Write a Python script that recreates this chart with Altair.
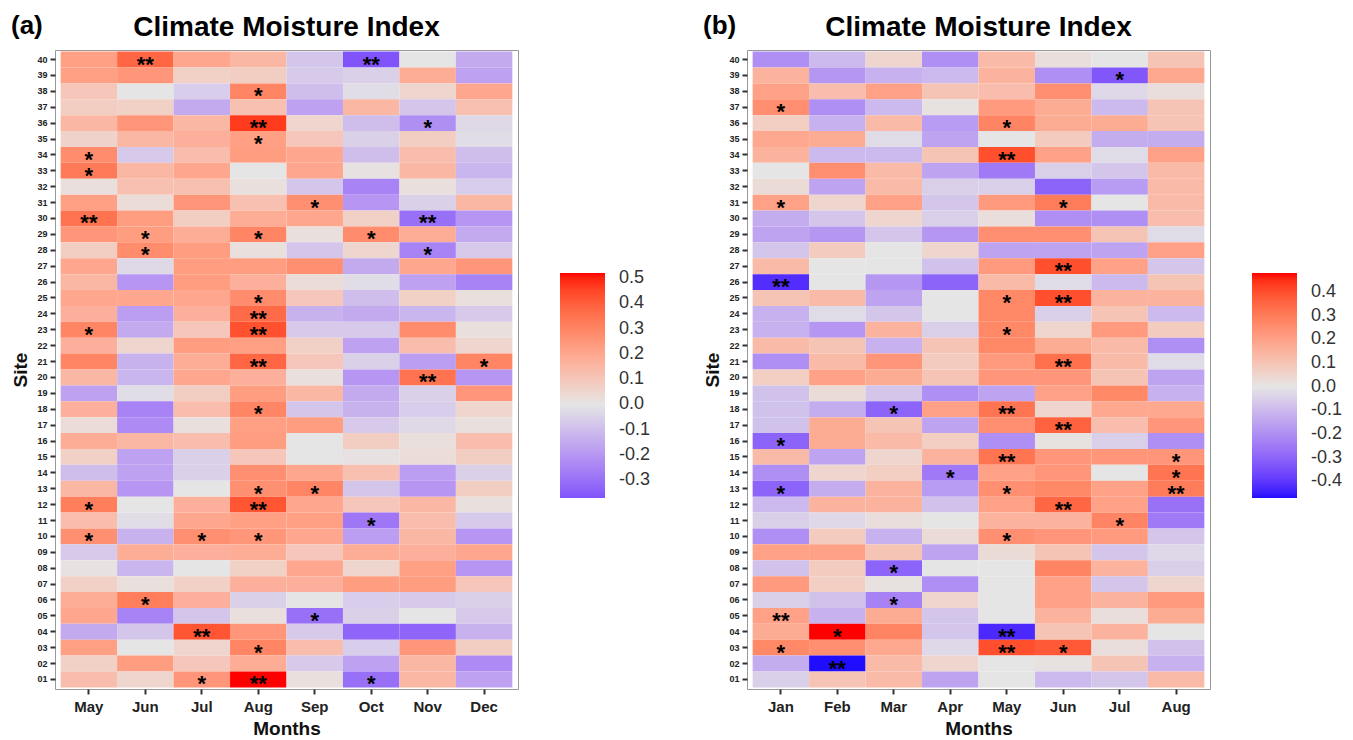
import altair as alt
import pandas as pd

FONT = "Liberation Sans"

# sites listed top -> bottom (40 ... 01)
sites = [f"{i:02d}" for i in range(40, 0, -1)]
months_a = ["May", "Jun", "Jul", "Aug", "Sep", "Oct", "Nov", "Dec"]
months_b = ["Jan", "Feb", "Mar", "Apr", "May", "Jun", "Jul", "Aug"]

# ---------------- panel (a): values per month, sites 40 -> 01 ----------------
a_may = [0.22, 0.22, 0.10, 0.08, 0.15, 0.06, 0.28, 0.33, 0.02, 0.22, 0.35, 0.25, 0.08, 0.20, 0.15, 0.20, 0.17, 0.30, 0.17, 0.30,
         0.15, -0.17, 0.17, 0.03, 0.18, 0.07, -0.10, 0.15, 0.32, 0.13, 0.27, -0.07, 0.01, 0.07, 0.18, 0.20, -0.15, 0.22, 0.07, 0.13]
a_jun = [0.38, 0.25, 0.00, 0.07, 0.25, 0.15, -0.07, 0.15, 0.12, 0.03, 0.23, 0.23, 0.28, -0.03, -0.20, 0.20, -0.18, -0.15, 0.05, -0.13,
         -0.12, -0.02, -0.25, -0.23, 0.15, -0.17, -0.17, -0.20, 0.00, -0.02, -0.13, 0.18, -0.12, 0.02, 0.32, -0.25, -0.08, 0.00, 0.23, 0.05]
a_jul = [0.20, 0.07, -0.06, -0.15, 0.15, 0.17, 0.13, 0.20, 0.12, 0.25, 0.08, 0.18, 0.23, 0.23, 0.23, 0.20, 0.17, 0.10, 0.23, 0.18,
         0.20, 0.08, 0.13, 0.02, 0.13, -0.05, -0.05, 0.00, 0.17, 0.20, 0.27, 0.17, 0.00, 0.07, 0.17, -0.08, 0.42, 0.05, 0.10, 0.25]
a_aug = [0.15, 0.08, 0.30, 0.12, 0.47, 0.22, 0.23, 0.00, 0.02, 0.12, 0.18, 0.30, 0.02, 0.23, 0.17, 0.28, 0.37, 0.43, 0.22, 0.38,
         0.17, 0.23, 0.30, 0.22, 0.23, 0.10, 0.27, 0.27, 0.42, 0.22, 0.25, 0.18, 0.07, 0.17, -0.05, 0.02, 0.25, 0.30, 0.18, 0.52]
a_sep = [-0.08, -0.07, -0.10, -0.17, 0.05, 0.10, 0.20, 0.20, -0.08, 0.27, 0.20, 0.02, -0.08, 0.27, 0.03, 0.10, -0.13, -0.07, 0.07, 0.10,
         0.02, 0.15, -0.08, 0.23, 0.00, 0.00, 0.20, 0.30, 0.20, 0.22, 0.20, 0.10, 0.20, 0.17, 0.00, -0.30, -0.07, 0.13, -0.07, 0.02]
a_oct = [-0.37, -0.05, -0.02, 0.15, -0.10, -0.05, -0.10, 0.01, -0.25, -0.20, 0.07, 0.28, 0.05, -0.15, -0.02, -0.10, -0.15, -0.07, -0.17, -0.05,
         -0.20, -0.15, -0.13, -0.07, 0.08, 0.01, 0.12, -0.08, 0.10, -0.28, -0.18, 0.18, 0.05, 0.23, -0.06, -0.05, -0.33, -0.06, -0.17, -0.30]
a_nov = [0.00, 0.18, 0.05, -0.08, -0.22, 0.08, 0.13, 0.15, 0.02, -0.05, -0.30, 0.18, -0.25, 0.20, -0.17, 0.07, -0.12, 0.28, 0.13, -0.18,
         0.35, -0.05, -0.06, -0.03, 0.02, 0.03, -0.18, -0.20, 0.15, 0.13, 0.15, 0.17, 0.22, 0.23, -0.07, 0.00, -0.33, 0.25, 0.15, 0.15]
a_dec = [-0.15, -0.17, 0.20, 0.12, -0.03, -0.02, -0.10, -0.12, -0.06, 0.15, -0.20, -0.15, -0.07, 0.25, -0.25, 0.02, -0.07, 0.02, 0.05, 0.30,
         -0.20, 0.25, 0.05, 0.02, 0.13, 0.08, -0.05, 0.08, 0.02, -0.07, -0.20, 0.20, -0.20, 0.10, -0.05, -0.07, -0.13, 0.08, -0.23, -0.17]

sig_a = {
    "May": {"34": "*", "33": "*", "30": "**", "23": "*", "12": "*", "10": "*"},
    "Jun": {"40": "**", "29": "*", "28": "*", "06": "*"},
    "Jul": {"10": "*", "04": "**", "01": "*"},
    "Aug": {"38": "*", "36": "**", "35": "*", "29": "*", "25": "*", "24": "**", "23": "**", "21": "**",
            "18": "*", "13": "*", "12": "**", "10": "*", "03": "*", "01": "**"},
    "Sep": {"31": "*", "13": "*", "05": "*"},
    "Oct": {"40": "**", "29": "*", "11": "*", "01": "*"},
    "Nov": {"36": "*", "30": "**", "28": "*", "20": "**"},
    "Dec": {"21": "*"},
}

# ---------------- panel (b): values per month, sites 40 -> 01 ----------------
b_jan = [-0.20, 0.15, 0.20, 0.25, 0.07, 0.18, 0.15, 0.00, 0.03, 0.20, -0.13, -0.15, -0.07, 0.13, -0.42, 0.10, -0.12, -0.12, 0.13, -0.20,
         0.07, -0.08, -0.08, -0.08, -0.30, 0.13, -0.20, -0.30, -0.10, -0.05, -0.20, 0.20, -0.08, 0.22, -0.05, 0.20, 0.17, 0.27, -0.13, -0.05]
b_feb = [-0.10, -0.18, 0.12, -0.20, -0.12, 0.17, -0.10, 0.25, -0.15, 0.05, -0.07, -0.18, 0.08, 0.00, 0.00, 0.13, -0.02, -0.18, 0.10, 0.13,
         0.20, 0.03, -0.13, 0.17, 0.17, -0.15, 0.05, -0.13, 0.15, -0.03, 0.08, 0.20, 0.08, 0.07, -0.08, -0.12, 0.48, 0.25, -0.47, 0.10]
b_mar = [0.05, -0.12, 0.20, -0.10, 0.13, -0.02, -0.10, 0.13, 0.13, 0.20, 0.05, -0.07, 0.00, 0.00, -0.18, -0.15, -0.07, 0.15, -0.12, 0.23,
         0.17, -0.07, -0.30, 0.10, 0.13, 0.05, 0.07, 0.15, 0.15, 0.02, -0.12, 0.10, -0.30, 0.01, -0.23, 0.17, 0.28, 0.18, 0.13, 0.13]
b_apr = [-0.20, -0.10, 0.10, 0.01, -0.17, -0.15, 0.10, -0.15, -0.05, -0.07, -0.05, -0.18, 0.05, -0.08, -0.30, 0.00, 0.00, -0.05, 0.10, 0.08,
         0.10, -0.20, 0.20, -0.15, 0.07, 0.15, -0.25, -0.17, -0.08, 0.00, 0.03, -0.15, 0.00, -0.20, 0.05, -0.07, -0.07, -0.03, 0.05, -0.15]
b_may = [0.13, 0.15, 0.12, 0.22, 0.28, 0.00, 0.40, -0.25, -0.05, 0.22, 0.02, 0.25, -0.15, 0.22, 0.13, 0.27, 0.27, 0.27, 0.27, 0.22,
         0.23, -0.15, 0.32, 0.25, -0.20, 0.32, 0.20, 0.25, 0.20, 0.15, 0.25, 0.03, 0.00, 0.00, 0.00, 0.00, -0.43, 0.40, 0.00, 0.00]
b_jun = [0.02, -0.20, 0.25, 0.17, 0.17, 0.08, 0.20, -0.05, -0.30, 0.30, -0.20, 0.25, -0.15, 0.40, -0.02, 0.40, -0.05, 0.05, 0.17, 0.33,
         0.23, 0.20, 0.05, 0.36, 0.01, 0.23, 0.23, 0.27, 0.35, 0.15, 0.23, 0.10, 0.28, 0.20, 0.20, 0.15, 0.10, 0.38, 0.01, -0.10]
b_jul = [0.00, -0.33, -0.03, -0.10, 0.17, -0.13, -0.02, -0.07, -0.17, 0.00, -0.20, 0.10, -0.15, 0.20, -0.10, 0.15, 0.10, 0.22, 0.13, 0.13,
         0.10, 0.27, 0.18, 0.12, -0.05, 0.23, 0.00, 0.20, 0.20, 0.28, 0.22, -0.07, 0.15, -0.07, 0.15, 0.02, 0.15, 0.02, 0.10, -0.07]
b_aug = [0.10, 0.18, 0.02, 0.10, 0.10, -0.13, 0.20, 0.13, 0.13, 0.13, 0.12, -0.02, 0.20, -0.07, 0.10, 0.15, -0.10, 0.08, -0.20, -0.02,
         -0.15, -0.12, 0.18, 0.23, -0.20, 0.23, 0.32, 0.30, -0.27, -0.25, -0.07, -0.03, -0.05, 0.05, 0.22, 0.17, 0.00, -0.08, -0.12, 0.13]

sig_b = {
    "Jan": {"37": "*", "31": "*", "26": "**", "16": "*", "13": "*", "05": "**", "03": "*"},
    "Feb": {"04": "*", "02": "**"},
    "Mar": {"18": "*", "08": "*", "06": "*"},
    "Apr": {"14": "*"},
    "May": {"36": "*", "34": "**", "25": "*", "23": "*", "18": "**", "15": "**", "13": "*", "10": "*", "04": "**", "03": "**"},
    "Jun": {"31": "*", "27": "**", "25": "**", "21": "**", "17": "**", "12": "**", "03": "*"},
    "Jul": {"39": "*", "11": "*"},
    "Aug": {"15": "*", "14": "*", "13": "**"},
}

cols_a = [a_may, a_jun, a_jul, a_aug, a_sep, a_oct, a_nov, a_dec]
cols_b = [b_jan, b_feb, b_mar, b_apr, b_may, b_jun, b_jul, b_aug]

legend_vals_a = [0.5, 0.4, 0.3, 0.2, 0.1, 0.0, -0.1, -0.2, -0.3]
legend_vals_b = [0.4, 0.3, 0.2, 0.1, 0.0, -0.1, -0.2, -0.3, -0.4]

TITLE = "Climate Moisture Index"
LOW, MID, HIGH = "#0000FF", "#E5E5E5", "#FF0000"


# ---- CIELAB helpers (diverging gradient whose ends are scaled by max |value|) ----
def _hex_to_lab(h):
    rgb = [int(h[i:i + 2], 16) / 255 for i in (1, 3, 5)]
    lin = [c / 12.92 if c <= 0.04045 else ((c + 0.055) / 1.055) ** 2.4 for c in rgb]
    r, g, b = lin
    x = (0.4124 * r + 0.3576 * g + 0.1805 * b) / 0.95047
    y = (0.2126 * r + 0.7152 * g + 0.0722 * b)
    z = (0.0193 * r + 0.1192 * g + 0.9505 * b) / 1.08883
    f = lambda t: t ** (1 / 3) if t > 0.008856 else 7.787 * t + 16 / 116
    fx, fy, fz = f(x), f(y), f(z)
    return (116 * fy - 16, 500 * (fx - fy), 200 * (fy - fz))


def _lab_to_hex(L, a, b):
    fy = (L + 16) / 116
    fx = fy + a / 500
    fz = fy - b / 200
    finv = lambda t: t ** 3 if t ** 3 > 0.008856 else (t - 16 / 116) / 7.787
    x, y, z = finv(fx) * 0.95047, finv(fy), finv(fz) * 1.08883
    r = 3.2406 * x - 1.5372 * y - 0.4986 * z
    g = -0.9689 * x + 1.8758 * y + 0.0415 * z
    bb = 0.0557 * x - 0.2040 * y + 1.0570 * z

    def gam(c):
        c = max(0.0, min(1.0, c))
        return 12.92 * c if c <= 0.0031308 else 1.055 * c ** (1 / 2.4) - 0.055

    return "#%02x%02x%02x" % tuple(round(gam(c) * 255) for c in (r, g, bb))


def _mix(c1, c2, t):
    l1, l2 = _hex_to_lab(c1), _hex_to_lab(c2)
    return _lab_to_hex(*[p + (q - p) * t for p, q in zip(l1, l2)])


def build_df(months, cols, sig):
    rows = []
    for m, col in zip(months, cols):
        for s, v in zip(sites, col):
            rows.append({"month": m, "site": s, "cmi": v, "sig": sig.get(m, {}).get(s, "")})
    return pd.DataFrame(rows)


W, H = 463, 639


def panel(months, cols, sig, tag, legend_vals):
    df = build_df(months, cols, sig)
    vmin, vmax = float(df.cmi.min()), float(df.cmi.max())
    amax = max(abs(vmin), abs(vmax))
    lo = _mix(MID, LOW, abs(vmin) / amax)
    hi = _mix(MID, HIGH, abs(vmax) / amax)

    x = alt.X("month:N", sort=months,
              scale=alt.Scale(paddingInner=0, paddingOuter=0.1),
              axis=alt.Axis(title="Months", labelAngle=0, labelFontSize=15, labelFontWeight="bold",
                            labelColor="#222", labelFont=FONT, labelPadding=5,
                            titleFontSize=19, titleFontWeight="bold", titleFont=FONT, titleColor="#111",
                            titlePadding=5, domain=False, ticks=True, tickSize=5, tickWidth=2,
                            tickColor="#333", grid=False))
    y = alt.Y("site:N", sort=sites,
              scale=alt.Scale(paddingInner=0, paddingOuter=0.1),
              axis=alt.Axis(title="Site", labelFontSize=9, labelFontWeight="bold", labelColor="#222",
                            labelFont=FONT, labelPadding=3,
                            titleFontSize=19, titleFontWeight="bold", titleFont=FONT, titleColor="#111",
                            titlePadding=6, domain=False, ticks=True, tickSize=5, tickWidth=2,
                            tickColor="#333", grid=False))

    base = alt.Chart(df).encode(x=x, y=y)
    rect = base.mark_rect().encode(
        color=alt.Color("cmi:Q",
                        scale=alt.Scale(domain=[vmin, 0, vmax], range=[lo, MID, hi], interpolate="lab"),
                        legend=alt.Legend(title=None, orient="none", direction="vertical",
                                          legendX=505, legendY=223,
                                          gradientLength=225, gradientThickness=45,
                                          gradientStrokeWidth=0,
                                          values=legend_vals,
                                          labelExpr="replace(format(datum.value, '.1f'), '\u2212', '-')",
                                          labelFontSize=18, labelFont=FONT, labelColor="#333",
                                          labelOffset=14, labelOverlap=False))
    )
    stars = base.mark_text(fontSize=22, font=FONT, fontWeight="bold", color="black",
                           baseline="alphabetic", dy=12).encode(text="sig:N").transform_filter("datum.sig != ''")
    heads = alt.Chart(pd.DataFrame({"t": [tag, TITLE], "kind": ["tag", "title"]}))
    tag_txt = heads.transform_filter("datum.kind == 'tag'").mark_text(
        fontSize=26, font=FONT, fontWeight="bold", color="black", align="left", baseline="alphabetic"
    ).encode(x=alt.value(-44), y=alt.value(-16), text="t:N")
    title_txt = heads.transform_filter("datum.kind == 'title'").mark_text(
        fontSize=28, font=FONT, fontWeight="bold", color="black", align="center", baseline="alphabetic"
    ).encode(x=alt.value(W / 2), y=alt.value(-14), text="t:N")

    return alt.layer(rect, stars, tag_txt, title_txt).properties(width=W, height=H)


chart_a = panel(months_a, cols_a, sig_a, "(a)", legend_vals_a)
chart_b = panel(months_b, cols_b, sig_b, "(b)", legend_vals_b)

chart = alt.hconcat(chart_a, chart_b, spacing=50).resolve_scale(color="independent").configure_view(
    stroke="#999999", strokeWidth=1
).properties(padding={"left": 10, "top": 12, "right": 5, "bottom": 2}, background="white")

chart.save("out.html", embed_options={"renderer": "svg", "actions": False})
